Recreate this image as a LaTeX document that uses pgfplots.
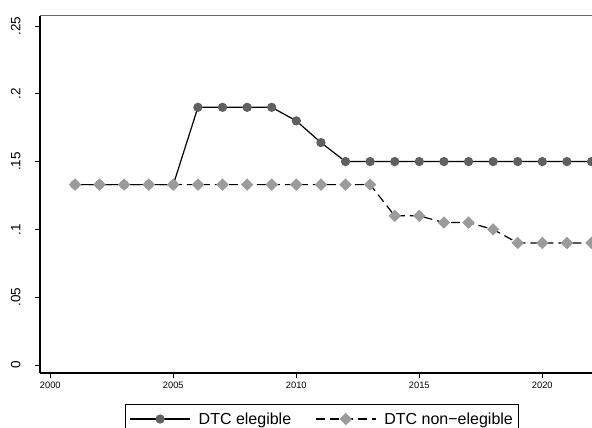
\documentclass[border=0pt]{standalone}
\usepackage{fontspec}
\setmainfont{Liberation Sans}
\usepackage{pgfplots}
\pgfplotsset{compat=1.18}
\definecolor{elig}{RGB}{96,96,96}
\definecolor{nonelig}{RGB}{155,155,155}
\definecolor{topline}{RGB}{105,105,105}
\begin{document}
\begin{tikzpicture}
\begin{axis}[
  at={(40pt,-373pt)}, anchor=south west,
  scale only axis, width=552pt, height=357.5pt,
  xmin=1999.58, xmax=2022.02, ymin=-0.0059, ymax=0.2577,
  axis x line*=bottom, axis y line*=left,
  axis line style={line width=1.3pt, black},
  tick align=outside, major tick length=5pt,
  tick style={line width=0.8pt, black},
  xtick={2000,2005,2010,2015,2020},
  xticklabels={2000,2005,2010,2015,2020},
  ytick={0,0.05,0.1,0.15,0.2,0.25},
  yticklabels={0,.05,.1,.15,.2,.25},
  xticklabel style={font=\fontsize{9.3}{10}\selectfont},
  yticklabel style={font=\fontsize{13.5}{14}\selectfont, rotate=90, anchor=south, yshift=11pt},
  legend style={at={(axis description cs:0.154,-0.0867)}, anchor=north west,
    draw=black, line width=1pt, font=\fontsize{16}{18}\selectfont,
    inner xsep=4pt, inner ysep=6pt,
    /tikz/every odd column/.append style={column sep=6pt},
    /tikz/every even column/.append style={column sep=22pt}},
  legend columns=2,
  legend image code/.code={\draw[mark repeat=2,mark phase=2,#1] plot coordinates {(0pt,0pt) (30pt,0pt) (60pt,0pt)};},
]
\draw[topline, line width=1.3pt] (rel axis cs:0,1) -- (rel axis cs:1,1);
\addplot[black, line width=1.2pt, mark=*, mark size=4pt, mark options={solid, fill=elig, draw=elig}]
coordinates {(2001,0.133) (2002,0.133) (2003,0.133) (2004,0.133) (2005,0.133)
(2006,0.19) (2007,0.19) (2008,0.19) (2009,0.19) (2010,0.18) (2011,0.164)
(2012,0.15) (2013,0.15) (2014,0.15) (2015,0.15) (2016,0.15) (2017,0.15)
(2018,0.15) (2019,0.15) (2020,0.15) (2021,0.15) (2022,0.15)};
\addlegendentry{DTC elegible}
\addplot[black, line width=1.2pt, dash pattern=on 9pt off 5pt, mark=square*, mark size=3.8pt, mark options={solid, rotate=45, fill=nonelig, draw=nonelig}]
coordinates {(2001,0.133) (2002,0.133) (2003,0.133) (2004,0.133) (2005,0.133)
(2006,0.133) (2007,0.133) (2008,0.133) (2009,0.133) (2010,0.133) (2011,0.133)
(2012,0.133) (2013,0.133) (2014,0.11) (2015,0.11) (2016,0.105) (2017,0.105)
(2018,0.10) (2019,0.09) (2020,0.09) (2021,0.09) (2022,0.09)};
\addlegendentry{DTC non−elegible}
\end{axis}
\pgfresetboundingbox
\useasboundingbox (0,0) rectangle (592pt,-428pt);
\end{tikzpicture}
\end{document}
